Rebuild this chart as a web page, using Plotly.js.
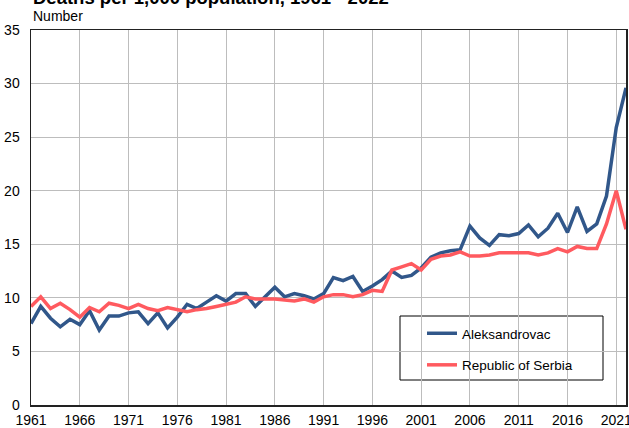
<!DOCTYPE html>
<html>
<head>
<meta charset="utf-8">
<script src="https://cdn.plot.ly/plotly-3.0.1.min.js"></script>
<style>html,body{margin:0;padding:0;background:#fff;}#chart{width:629px;height:428px;}</style>
</head>
<body>
<div id="chart"></div>
<script>
const years = [];
for (let y = 1961; y <= 2022; y++) years.push(y);

const aleksandrovac = [
  7.6, 9.2, 8.1, 7.3, 8.0, 7.5, 8.8, 7.0, 8.3, 8.3,
  8.6, 8.7, 7.6, 8.6, 7.2, 8.2, 9.4, 9.0, 9.6, 10.2,
  9.7, 10.4, 10.4, 9.2, 10.1, 11.0, 10.1, 10.4, 10.2, 9.9,
  10.4, 11.9, 11.6, 12.0, 10.6, 11.1, 11.7, 12.5, 11.9, 12.1,
  12.8, 13.8, 14.2, 14.4, 14.5, 16.7, 15.6, 14.9, 15.9, 15.8,
  16.0, 16.8, 15.7, 16.5, 17.9, 16.1, 18.5, 16.2, 16.9, 19.5,
  25.9, 29.6
];
const serbia = [
  9.2, 10.1, 9.0, 9.5, 8.9, 8.2, 9.1, 8.7, 9.5, 9.3,
  9.0, 9.4, 9.0, 8.8, 9.1, 8.9, 8.7, 8.9, 9.0, 9.2,
  9.4, 9.6, 10.1, 9.9, 9.9, 9.9, 9.8, 9.7, 9.9, 9.6,
  10.1, 10.3, 10.3, 10.1, 10.3, 10.7, 10.6, 12.6, 12.9, 13.2,
  12.6, 13.6, 13.9, 14.0, 14.3, 13.9, 13.9, 14.0, 14.2, 14.2,
  14.2, 14.2, 14.0, 14.2, 14.6, 14.3, 14.8, 14.6, 14.6, 16.9,
  20.0, 16.4
];
const xTicks = [1961, 1966, 1971, 1976, 1981, 1986, 1991, 1996, 2001, 2006, 2011, 2016, 2021];
const yTicks = [0, 5, 10, 15, 20, 25, 30, 35];
const seriesNames = ["Aleksandrovac", "Republic of Serbia"];
const titleText = "Deaths per 1,000 population, 1961 - 2022";
const unitText = "Number";

const font = "Liberation Sans, Arial, sans-serif";

const traces = [
  {x: years, y: aleksandrovac, name: seriesNames[0], type: "scatter", mode: "lines",
   line: {color: "#31578a", width: 3.5}, legendgroup: "a"},
  {x: years, y: serbia, name: seriesNames[1], type: "scatter", mode: "lines",
   line: {color: "#ff5a5f", width: 3.5}, legendgroup: "b"}
];

const layout = {
  width: 629, height: 428,
  margin: {l: 31, r: 3, t: 30, b: 23, pad: 0},
  paper_bgcolor: "#fff", plot_bgcolor: "#fff",
  font: {family: font, size: 14, color: "#000"},
  showlegend: true,
  legend: {
    x: (422 - 31) / 595, xanchor: "left",
    y: (405 - 318) / 375, yanchor: "top",
    bgcolor: "rgba(0,0,0,0)", borderwidth: 0,
    font: {family: font, size: 13.5, color: "#000"},
    traceorder: "grouped", tracegroupgap: 11
  },
  xaxis: {
    range: [1961, 2022], tickmode: "array", tickvals: xTicks,
    ticktext: xTicks.map(String),
    showgrid: true, gridcolor: "#bdbdbd", gridwidth: 1,
    showline: true, linecolor: "#222", linewidth: 1.5, mirror: true,
    ticks: "", ticklabelstandoff: 2, zeroline: false,
    ticklabeloverflow: "allow",
    tickfont: {family: font, size: 14, color: "#000"}
  },
  yaxis: {
    range: [0, 35], tickmode: "array", tickvals: yTicks,
    showgrid: true, gridcolor: "#bdbdbd", gridwidth: 1,
    showline: true, linecolor: "#222", linewidth: 1.5, mirror: true,
    ticks: "", ticklabelstandoff: 7, zeroline: false,
    tickfont: {family: font, size: 14, color: "#000"}
  },
  shapes: [
    {type: "rect", xref: "paper", yref: "paper",
     x0: (400 - 31) / 595, x1: (603 - 31) / 595,
     y0: (405 - 380) / 375, y1: (405 - 316) / 375,
     line: {color: "#000", width: 1}, fillcolor: "#fff", layer: "below"}
  ],
  annotations: [
    {text: "<b>" + titleText + "</b>", xref: "paper", yref: "paper",
     x: 0, y: 1 + (29.5 - 9) / 375, xanchor: "left", yanchor: "bottom",
     showarrow: false, font: {family: font, size: 18.5, color: "#000"}},
    {text: unitText, xref: "paper", yref: "paper",
     x: 0, y: 1 + (29.5 - 15.5) / 375, xanchor: "left", yanchor: "middle",
     showarrow: false, font: {family: font, size: 14, color: "#000"}}
  ]
};

Plotly.newPlot("chart", traces, layout, {displayModeBar: false, staticPlot: true});
</script>
</body>
</html>
